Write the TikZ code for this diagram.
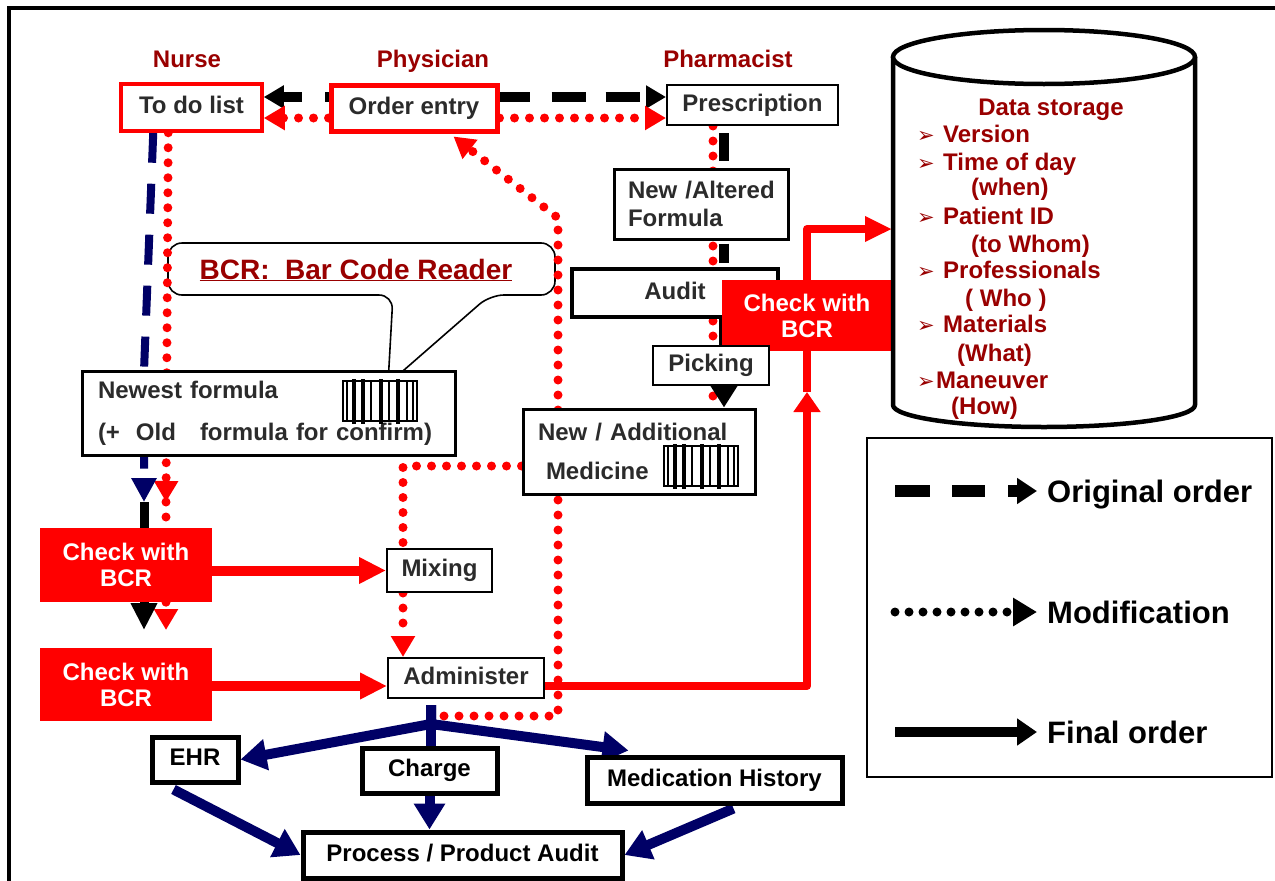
\documentclass[tikz,border=0pt]{standalone}
\usepackage{fontspec}
\setmainfont{Liberation Sans}
\newfontfamily\dejavu{DejaVu Sans}
\usetikzlibrary{arrows.meta,calc}
\pgfdeclarelayer{background}
\pgfsetlayers{background,main}
\definecolor{myred}{HTML}{FF0000}
\definecolor{darkred}{HTML}{990000}
\definecolor{navy}{HTML}{000066}
\definecolor{boxtext}{HTML}{2B2B2B}
\tikzset{
  txt/.style={font=\bfseries\fontsize{24}{28}\selectfont},
  oneline/.style={text height=17pt, text depth=5pt},
  wbox/.style={txt, draw=black, fill=white, text=boxtext, inner sep=0pt},
  redbox/.style={wbox, draw=myred},
  checkbox/.style={fill=myred, text=white, align=center, inner sep=0pt, font=\bfseries\fontsize{24}{26}\selectfont},
  btmbox/.style={wbox, oneline, line width=5pt, text=black},
  role/.style={txt, text=darkred, anchor=base},
  dstxt/.style={font=\bfseries\fontsize{24}{27}\selectfont, text=darkred, inner sep=0pt, anchor=base west},
  dsbullet/.style={font=\dejavu\fontsize{21}{24}\selectfont, text=darkred, inner sep=0pt, anchor=base west},
  legtxt/.style={font=\bfseries\fontsize{31}{34}\selectfont, text=black, inner sep=0pt, anchor=base west},
  reddot/.style={draw=myred, line width=9pt, line cap=round, dash pattern=on 0pt off 15pt},
  redtip/.style={-{Triangle[length=21pt,width=23pt]}},
  ktip/.style={-{Triangle[length=20pt,width=22pt]}},
  blackdash/.style={draw=black, line width=10pt},
  navydash/.style={draw=navy, line width=8pt, dash pattern=on 30pt off 21pt, line join=round},
  navyfinal/.style={draw=navy, line width=10pt, line join=round, -{Triangle[length=26pt,width=30pt]}},
  redfinal/.style={draw=myred, line width=10pt, -{Triangle[length=27pt,width=25pt]}},
  blackfinal/.style={draw=black, line width=9pt},
  callout/.style={draw=black, fill=white, line width=1.6pt, rounded corners=14pt},
  barcode/.pic={
    \draw[line width=1.3pt, fill=white] (0,0) rectangle (74,40);
    \foreach \bx in {4,28,46,64,70} \draw[line width=1.5pt] (\bx,0) -- (\bx,40);
    \foreach \bx in {11,20,38,55} \draw[line width=4pt] (\bx,-2) -- (\bx,43);
  }
}
\begin{document}
\begin{tikzpicture}[x=1pt,y=-1pt]
\useasboundingbox (0,0) rectangle (1275,881);
% frame
\draw[line width=4pt] (9,881) -- (9,8) -- (1275,8);

% role labels
\node[role] (nurse) at (187,67) {Nurse};
\node[role] (phys) at (433,67) {Physician};
\node[role] (pharm) at (728,67) {Pharmacist};

% boxes
\node[redbox, oneline, line width=3.5pt, minimum width=141pt, minimum height=47pt] (todo) at (191.5,107.5) {To do list};
\node[redbox, oneline, line width=5pt, minimum width=166pt, minimum height=46pt] (order) at (414,108) {Order entry};
\node[wbox, oneline, line width=2pt, minimum width=171pt, minimum height=40pt] (presc) at (752.5,105) {Prescription};
\node[wbox, line width=3pt, minimum height=70pt, text width=146pt, inner xsep=14pt, align=left] (altered) at (701,204) {\mbox{New /Altered}\\Formula};
\node[wbox, oneline, line width=4.5pt, minimum width=206pt, minimum height=48pt] (audit) at (675,293) {Audit};
\node[checkbox, minimum width=170pt, minimum height=71pt] (checkR) at (807,315.5) {Check with\\BCR};
\node[wbox, oneline, line width=2pt, minimum width=116pt, minimum height=39pt] (picking) at (711,365.5) {Picking};
\node[wbox, line width=3pt, minimum height=85pt, text width=202pt, inner xsep=15pt, align=left] (newadd) at (639,451.5) {\mbox{New / Additional}\\[11pt]\hspace*{8pt}Medicine};
\pic at (664,446) {barcode};
\node[wbox, line width=3pt, minimum height=84pt, text width=341pt, inner xsep=16pt, align=left] (newest) at (268.5,413) {Newest formula\\[14pt]\mbox{(+\ \ Old\ \ \ formula for confirm)}};
\pic at (343,381) {barcode};
\node[checkbox, minimum width=172pt, minimum height=74pt] (check1) at (126,565) {Check with\\BCR};
\node[checkbox, minimum width=172pt, minimum height=73pt] (check2) at (126,684.5) {Check with\\BCR};
\node[wbox, oneline, line width=2pt, minimum width=105pt, minimum height=43pt] (mixing) at (439.5,570.5) {Mixing};
\node[wbox, oneline, line width=2pt, minimum width=156pt, minimum height=40pt] (admin) at (466,678) {Administer};
\node[btmbox, minimum width=86pt, minimum height=45pt] (ehr) at (195,759.5) {EHR};
\node[btmbox, minimum width=135pt, minimum height=45pt] (charge) at (429.5,770.5) {Charge};
\node[btmbox, minimum width=255pt, minimum height=46pt] (medhist) at (714.5,780) {Medication History};
\node[btmbox, minimum width=319pt, minimum height=46pt] (process) at (462.5,855) {Process / Product Audit};

% data storage cylinder
\fill[white] (893,57) -- (893,405) arc[start angle=180,end angle=0,x radius=151,y radius=22] -- (1195,57) -- cycle;
\draw[line width=4.5pt, line join=round] (893,57) -- (893,405) arc[start angle=180,end angle=0,x radius=151,y radius=22] -- (1195,57);
\draw[line width=4.5pt, fill=white] (1044,57) ellipse [x radius=151, y radius=27];
\node[dstxt, anchor=base] (ds0) at (1051,115) {Data storage};
\node[dsbullet] (b1) at (917,142) {➢};
\node[dstxt] (ds1) at (943,142) {Version};
\node[dsbullet] (b2) at (917,170) {➢};
\node[dstxt] (ds2) at (943,170) {Time of day};
\node[dstxt] (ds3) at (971,195) {(when)};
\node[dsbullet] (b3) at (917,224) {➢};
\node[dstxt] (ds4) at (943,224) {Patient ID};
\node[dstxt] (ds5) at (971,252) {(to Whom)};
\node[dsbullet] (b4) at (917,278) {➢};
\node[dstxt] (ds6) at (943,278) {Professionals};
\node[dstxt] (ds7) at (965,306) {(\ Who\ )};
\node[dsbullet] (b5) at (917,332) {➢};
\node[dstxt] (ds8) at (943,332) {Materials};
\node[dstxt] (ds9) at (957,361) {(What)};
\node[dsbullet] (b6) at (917,388) {➢};
\node[dstxt] (ds10) at (936,388) {Maneuver};
\node[dstxt] (ds11) at (951,414) {(How)};

% legend
\node[draw, line width=2pt, minimum width=405pt, minimum height=339pt, inner sep=0pt] (legend) at (1069.5,607.5) {};
\node[legtxt] (lo) at (1047,502) {Original order};
\node[legtxt] (lm) at (1047,623) {Modification};
\node[legtxt] (lf) at (1047,743) {Final order};
\coordinate (l1) at (895,491);
\coordinate (l2) at (895,612);
\coordinate (l3) at (895,732);
\draw[black, line width=12pt, dash pattern=on 35pt off 22pt on 33pt off 23pt, -{Triangle[length=20pt,width=25pt]}] (l1) -- ($(l1 -| lo.west)+(-10,0)$);
\draw[black, line width=9pt, line cap=round, dash pattern=on 0pt off 14pt, -{Triangle[length=24pt,width=27pt]}] (l2) -- ($(l2 -| lm.west)+(-10,0)$);
\draw[black, line width=10pt, -{Triangle[length=20pt,width=26pt]}] (l3) -- ($(l3 -| lf.west)+(-10,0)$);

% coordinates
\coordinate (rowK) at (0,97);
\coordinate (rowR) at (0,118);
\coordinate (nv1) at (144,371);
\coordinate (nv2) at (144,502);
\coordinate (nv3) at (144,630);
\coordinate (ar1) at (166,502);
\coordinate (ar2) at (166,630);
\coordinate (mx) at (403,466);
\coordinate (d1) at (444,716);
\coordinate (d2) at (558,716);
\coordinate (d3) at (558,218);
\coordinate (xd) at (713,0);
\coordinate (xk) at (724,0);
\coordinate (rc1) at (807,686);
\coordinate (rc2) at (807,392);
\coordinate (cy) at (892,229);
\coordinate (a0) at (431,705);
\coordinate (j) at (431,724);

\begin{pgfonlayer}{background}
\fill[white] (0,0) rectangle (1275,881);
% BCR callout
\draw[callout] (360,243) -- (555,243) -- (555,295) -- (490,295) -- (388,384) -- (393,295) -- (168,295) -- (168,243) -- cycle;
\node[font=\bfseries\fontsize{28}{30}\selectfont, text=darkred, inner sep=0pt] (bcr) at (356,270) {\underline{BCR:\ \ Bar Code Reader}};

% original order (black dashed)
\draw[blackdash, dash pattern=on 4pt off 23pt on 60pt, ktip] (order.west |- rowK) -- (todo.east |- rowK);
\draw[blackdash, dash pattern=on 30pt off 22pt on 34pt off 20pt on 34pt off 20pt, ktip] (order.east |- rowK) -- (presc.west |- rowK);

% modification (red dotted)
\draw[reddot, redtip] (order.west |- rowR) -- (todo.east |- rowR);
\draw[reddot, redtip] (order.east |- rowR) -- (presc.west |- rowR);
\draw[reddot, redtip] ($(todo.south west)+(49,0)$) -- (ar1);
\draw[reddot] (ar1) -- (check1.north -| ar1);
\draw[reddot, redtip] (check1.south -| ar2) -- (ar2);
\draw[reddot] (newadd.west |- mx) -- (mx) -- (mx |- mixing.north);
\draw[reddot, redtip] (mx |- mixing.south) -- (mx |- admin.north);
\draw[reddot, redtip] (d1) -- (d2) -- (d3) -- ($(order.south west)+(125,3)$);
\draw[reddot] (presc.south -| xd) -- (newadd.north -| xd);

% nurse dashed navy + black
\draw[navydash, -{Triangle[length=24pt,width=24pt]}] ($(todo.south west)+(34,0)$) -- (nv1) -- (nv2);
\draw[blackfinal] (nv2) -- (check1.north -| nv2);
\draw[blackfinal, -{Triangle[length=27pt,width=25pt]}] (check1.south -| nv3) -- (nv3);

% pharmacist final order (black)
\draw[blackfinal, line width=10pt] ($(presc.south -| xk)+(0,7)$) -- ($(altered.north -| xk)+(0,-7)$);
\draw[blackfinal, line width=10pt] ($(altered.south -| xk)+(0,3)$) -- ($(audit.north -| xk)+(0,-4)$);
\draw[blackfinal, line width=10pt] (audit.south -| xk) -- (picking.north -| xk);
\draw[blackfinal, line width=10pt, -{Triangle[length=22pt,width=26pt]}] (picking.south -| xk) -- (newadd.north -| xk);

% red final order
\draw[redfinal] (check1.east |- mixing.west) -- (mixing.west);
\draw[redfinal] (check2.east |- rc1) -- (admin.west |- rc1);
\draw[draw=myred, line width=8pt, line join=round, -{Triangle[length=20pt,width=26pt]}] (admin.east |- rc1) -- (rc1) -- (rc2);
\draw[draw=myred, line width=8pt] (rc2) -- (checkR.south);
\draw[draw=myred, line width=8pt, line join=round, -{Triangle[length=27pt,width=24pt]}] (checkR.north) -- (checkR.north |- cy) -- (cy);

% navy final order
\draw[navy, line width=10pt] (a0) -- (j) -- (charge.north -| j);
\draw[navyfinal] (a0) -- (j) -- (ehr.east);
\draw[navyfinal] (a0) -- (j) -- ($(medhist.north west)+(44,-4)$);
\draw[navyfinal] ($(ehr.south west)+(24,5)$) -- (process.west);
\draw[navyfinal] (charge.south) -- (charge.south |- process.north);
\draw[navyfinal] ($(medhist.south)+(19,3)$) -- (process.east);
\end{pgfonlayer}
\end{tikzpicture}
\end{document}
